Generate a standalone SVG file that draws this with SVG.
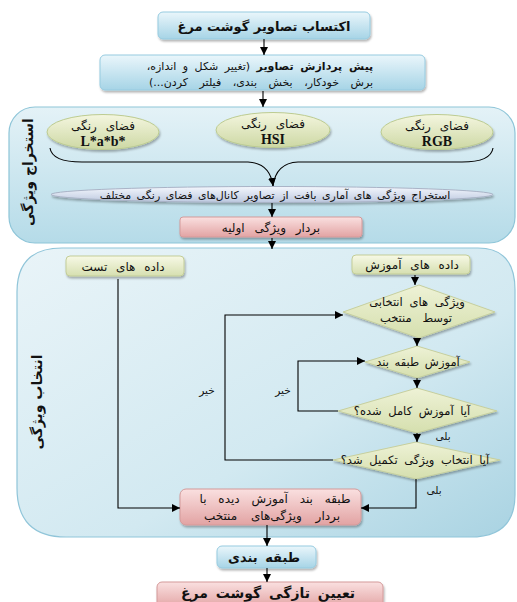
<svg xmlns="http://www.w3.org/2000/svg" width="517" height="602" viewBox="0 0 517 602">
<defs>
<linearGradient id="gBlue" x1="0" y1="0" x2="0" y2="1"><stop offset="0" stop-color="#eaf6fb"/><stop offset="1" stop-color="#a6d4e6"/></linearGradient>
<linearGradient id="gCont" x1="0" y1="0" x2="1" y2="1"><stop offset="0" stop-color="#e9f4f8"/><stop offset="0.6" stop-color="#d2e9f1"/><stop offset="1" stop-color="#a9d3e2"/></linearGradient>
<linearGradient id="gCont2" x1="0" y1="0" x2="0" y2="1"><stop offset="0" stop-color="#e4f2f7"/><stop offset="1" stop-color="#b5dbe8"/></linearGradient>
<linearGradient id="gGreen" x1="0" y1="0" x2="0" y2="1"><stop offset="0" stop-color="#f4f6df"/><stop offset="1" stop-color="#cdd8a4"/></linearGradient>
<linearGradient id="gData" x1="0" y1="0" x2="0" y2="1"><stop offset="0" stop-color="#f7f9e6"/><stop offset="1" stop-color="#d6dfb0"/></linearGradient>
<linearGradient id="gRed" x1="0" y1="0" x2="0" y2="1"><stop offset="0" stop-color="#fae0e0"/><stop offset="1" stop-color="#e2a3a3"/></linearGradient>
<linearGradient id="gFlat" x1="0" y1="0" x2="0" y2="1"><stop offset="0" stop-color="#f4f7fd"/><stop offset="1" stop-color="#bcc8df"/></linearGradient>
<linearGradient id="gDia" x1="0" y1="0" x2="0" y2="1"><stop offset="0" stop-color="#eef2d6"/><stop offset="1" stop-color="#d5dfae"/></linearGradient>
<filter id="sh" x="-10%" y="-10%" width="120%" height="140%"><feDropShadow dx="1" dy="2" stdDeviation="1.2" flood-color="#000" flood-opacity="0.3"/></filter>
<marker id="ah" markerWidth="8" markerHeight="8" refX="8" refY="4" orient="auto" markerUnits="userSpaceOnUse"><path d="M0,0 L8,4 L0,8 z" fill="#000"/></marker>
</defs>
<style>
text{font-family:"DejaVu Sans","Noto Sans",sans-serif;fill:#111;text-anchor:middle;direction:rtl}
.b{font-weight:bold}
.t13{font-size:13px}
.t14{font-size:14px}
.t11{font-size:11px}
.t12{font-size:12px}
.dt{font-size:11.5px;word-spacing:3px}
.sm{font-size:10.5px}
.lat{font-family:"Liberation Serif",serif;font-weight:bold;font-size:14px;direction:ltr}
.ln{fill:none;stroke:#000;stroke-width:1.1}
</style>
<g id="containers">
<rect id="extraction" x="9" y="107" width="506" height="136" rx="26" fill="url(#gCont2)" stroke="#8ec5d8" stroke-width="1.2"/>
<path id="selection" d="M17,292 Q17,248 62,248 H478 Q515,248 515,290 V495 Q515,537 470,537 H66 Q17,537 17,488 Z" fill="url(#gCont)" stroke="#90c5d9" stroke-width="1.2"/>
<text class="b" font-size="14" transform="translate(33,172) rotate(-90)">استخراج ویژگی</text>
<text class="b" font-size="14" transform="translate(42,402) rotate(-90)">انتخاب ویژگی</text>
</g>
<g id="n1"><rect x="158" y="12" width="212" height="27" rx="5" fill="url(#gBlue)" stroke="#96cbe0" filter="url(#sh)"/><text class="b t13" x="264" y="30.5">اکتساب تصاویر گوشت مرغ</text></g>
<g id="n2"><rect x="100" y="55" width="325" height="35" rx="5" fill="url(#gBlue)" stroke="#96cbe0" filter="url(#sh)"/><text class="t11" x="260" y="70" style="word-spacing:3px"><tspan class="b">پیش پردازش تصاویر</tspan> (تغییر شکل و اندازه،</text><text class="t11" x="261" y="86" style="word-spacing:8px">برش خودکار، بخش بندی، فیلتر کردن...)</text></g>
<g id="lab"><ellipse cx="103" cy="132" rx="56" ry="17.5" fill="url(#gGreen)" stroke="#bccb91" filter="url(#sh)"/><text class="t12" x="103" y="130" style="word-spacing:5px">فضای رنگی</text><text class="lat" x="103" y="145.5">L*a*b*</text></g>
<g id="hsi"><ellipse cx="273" cy="130" rx="57" ry="17.5" fill="url(#gGreen)" stroke="#bccb91" filter="url(#sh)"/><text class="t12" x="273" y="128" style="word-spacing:5px">فضای رنگی</text><text class="lat" x="273" y="143.5">HSI</text></g>
<g id="rgb"><ellipse cx="437" cy="132" rx="56" ry="17.5" fill="url(#gGreen)" stroke="#bccb91" filter="url(#sh)"/><text class="t12" x="437" y="130" style="word-spacing:5px">فضای رنگی</text><text class="lat" x="437" y="145.5">RGB</text></g>
<g id="texture"><ellipse cx="272" cy="194.5" rx="221" ry="8" fill="url(#gFlat)" stroke="#a9b3c6" filter="url(#sh)"/><text class="t11" x="275" y="198.5" style="word-spacing:2px">استخراج ویژگی های آماری بافت از تصاویر کانال‌های فضای رنگی مختلف</text></g>
<g id="vec"><rect x="180" y="217" width="182" height="20" rx="3" fill="url(#gRed)" stroke="#d49a9a" filter="url(#sh)"/><text class="t12" x="271" y="231.5" style="word-spacing:6px">بردار ویژگی اولیه</text></g>
<g id="test"><rect x="66" y="256" width="118" height="20" rx="4" fill="url(#gData)" stroke="#c3cd98" filter="url(#sh)"/><text class="t12" x="123" y="270.5" style="word-spacing:5px">داده های تست</text></g>
<g id="train"><rect x="352" y="255" width="118" height="19" rx="4" fill="url(#gData)" stroke="#c3cd98" filter="url(#sh)"/><text class="t12" x="412" y="269" style="word-spacing:5px">داده های آموزش</text></g>
<g id="d1"><polygon points="419,285 495,312 419,338 343,312" fill="url(#gDia)" stroke="#c6cf9e" filter="url(#sh)"/><text class="dt" x="417" y="306">ویژگی های انتخابی</text><text class="dt" x="416" y="322" style="word-spacing:7px">توسط منتخب</text></g>
<g id="d2"><polygon points="417,346 470,362 417,378 365,362" fill="url(#gDia)" stroke="#c6cf9e" filter="url(#sh)"/><text class="dt" x="418" y="366" style="word-spacing:2px">آموزش طبقه بند</text></g>
<g id="d3"><polygon points="417,388 497,411 417,433 338,411" fill="url(#gDia)" stroke="#c6cf9e" filter="url(#sh)"/><text class="dt" x="412" y="415">آیا آموزش کامل شده؟</text></g>
<g id="d4"><polygon points="416,442 500,460 416,479 333,460" fill="url(#gDia)" stroke="#c6cf9e" filter="url(#sh)"/><text class="dt" x="415" y="464">آیا انتخاب ویژگی تکمیل شد؟</text></g>
<g id="clf"><rect x="180" y="489" width="181" height="36" rx="6" fill="url(#gRed)" stroke="#d49a9a" filter="url(#sh)"/><text class="t12" x="275" y="502.5" style="word-spacing:8px">طبقه بند آموزش دیده با</text><text class="t12" x="272" y="519.5" style="word-spacing:10px">بردار ویژگی‌های منتخب</text></g>
<g id="cls"><rect x="217" y="546" width="99" height="22" rx="5" fill="url(#gBlue)" stroke="#96cbe0" filter="url(#sh)"/><text class="b t13" x="264" y="561.5" style="word-spacing:3px">طبقه بندی</text></g>
<g id="final"><rect x="157" y="582" width="226" height="26" rx="5" fill="url(#gRed)" stroke="#d49a9a" filter="url(#sh)"/><text class="b t14" x="268" y="598" style="word-spacing:3px">تعیین تازگی گوشت مرغ</text></g>
<g id="connectors">
<path class="ln" d="M264,39 V55" marker-end="url(#ah)"/>
<path class="ln" d="M263,91 V107" marker-end="url(#ah)"/>
<path class="ln" d="M50,148 Q52,162 82,162 H248 Q270,163 273,186" marker-end="url(#ah)" stroke="#333"/>
<path class="ln" d="M493,148 Q491,162 462,162 H298 Q276,163 273,186" stroke="#333"/>
<path class="ln" d="M272,203 V217" marker-end="url(#ah)"/>
<path class="ln" d="M272,238 V249" marker-end="url(#ah)"/>
<path class="ln" d="M415,275 V285" marker-end="url(#ah)"/>
<path class="ln" d="M417,338 V346" marker-end="url(#ah)"/>
<path class="ln" d="M417,378 V388" marker-end="url(#ah)"/>
<path class="ln" d="M417,433 V442" marker-end="url(#ah)"/>
<path class="ln" d="M338,411 H298 V361 H365" marker-end="url(#ah)"/>
<path class="ln" d="M333,460 H225 V315 H343" marker-end="url(#ah)"/>
<path class="ln" d="M118,279 V508 H180" marker-end="url(#ah)"/>
<path class="ln" d="M416,479 V508 H361" marker-end="url(#ah)"/>
<path class="ln" d="M267,525 V546" marker-end="url(#ah)"/>
<path class="ln" d="M267,568 V582" marker-end="url(#ah)"/>
<text class="sm" x="283" y="394">خیر</text>
<text class="sm" x="207" y="394">خیر</text>
<text class="sm" x="443" y="440">بلی</text>
<text class="sm" x="434" y="494">بلی</text>
</g>
</svg>
